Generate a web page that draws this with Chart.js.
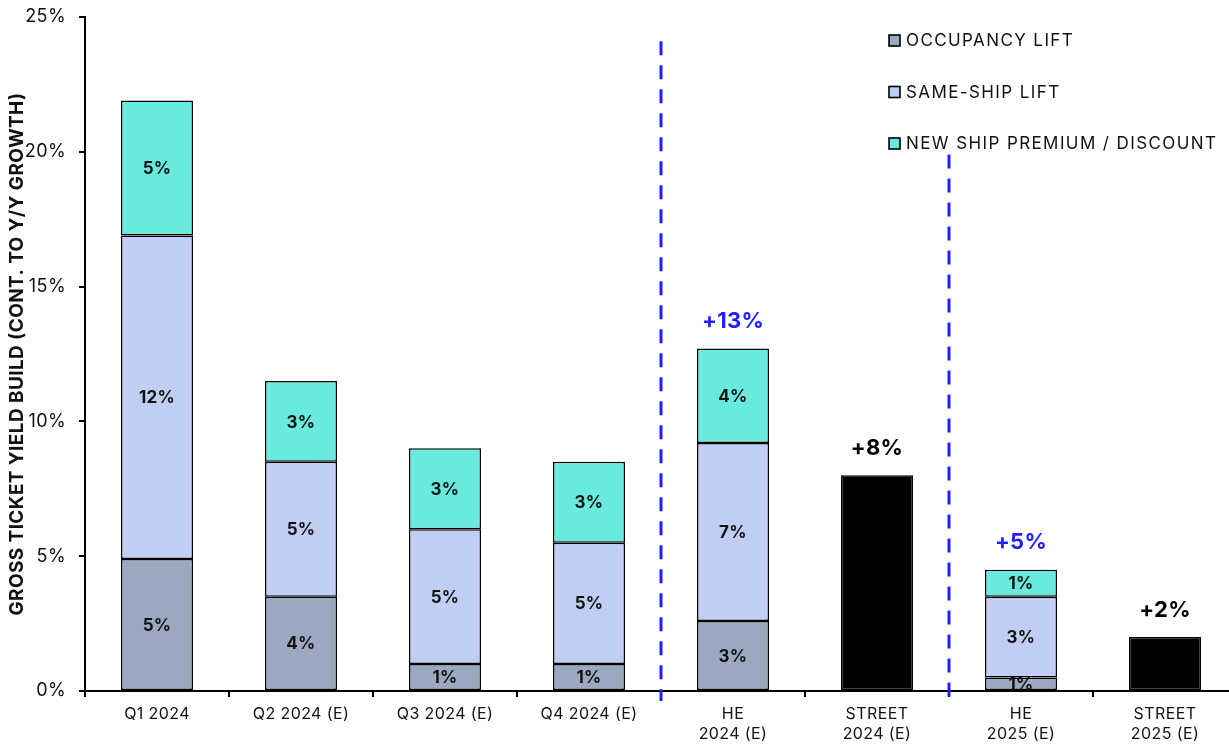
<!DOCTYPE html>
<html>
<head>
<meta charset="utf-8">
<script src="https://cdn.jsdelivr.net/npm/chart.js@4.4.1/dist/chart.umd.min.js"></script>
<style>
  html, body { margin: 0; padding: 0; background: #fff; overflow: hidden; }
  #wrap { width: 1240px; height: 750px; }
</style>
</head>
<body>
<div id="wrap"><canvas id="c" width="1240" height="750"></canvas></div>
<script>
// Categories (multi-line labels as arrays)
const categories = [
  'Q1 2024', 'Q2 2024 (E)', 'Q3 2024 (E)', 'Q4 2024 (E)',
  ['HE', '2024 (E)'], ['STREET', '2024 (E)'], ['HE', '2025 (E)'], ['STREET', '2025 (E)']
];

// Contribution to y/y gross ticket yield growth, in %
const occupancyLift = [4.9, 3.5, 1.0, 1.0, 2.6, null, 0.5, null];
const sameShipLift  = [12.0, 5.0, 5.0, 4.5, 6.6, null, 3.0, null];
const newShipPremium = [5.0, 3.0, 3.0, 3.0, 3.5, null, 1.0, null];
const streetEstimate = [null, null, null, null, null, 8.0, null, 2.0];

// Which categories get a total label above the stack, and in what colour
const totalLabelColors = [null, null, null, null, '#1f1fff', '#000000', '#1f1fff', '#000000'];

// y-axis ticks
const yTicks = [0, 5, 10, 15, 20, 25];

// Separators between category groups (index after which the line sits, top value in %)
const separatorAfter = [3, 5];
const separatorTop = [24.1, 19.9];

const FONT = "Inter, 'Liberation Sans', sans-serif";

const seriesNames = ['OCCUPANCY LIFT', 'SAME-SHIP LIFT', 'NEW SHIP PREMIUM / DISCOUNT'];
const seriesColors = ['#9ca8bf', '#c0cdf5', '#68eadc'];

const datasets = [
  { label: seriesNames[0], data: occupancyLift, backgroundColor: seriesColors[0] },
  { label: seriesNames[1], data: sameShipLift, backgroundColor: seriesColors[1] },
  { label: seriesNames[2], data: newShipPremium, backgroundColor: seriesColors[2] },
  { label: 'STREET', data: streetEstimate, backgroundColor: '#000000', noLegend: true, noInnerLabel: true }
].map(d => Object.assign({
  borderColor: '#000000',
  borderWidth: 1.5,
  borderSkipped: false,
  barPercentage: 0.5,
  categoryPercentage: 1.0,
  stack: 's'
}, d));

// Slightly wider letter spacing for all axis text
const spacing = {
  id: 'spacing',
  beforeDraw(chart) { chart.ctx.letterSpacing = '0.4px'; }
};

// Percent labels inside segments and totals above the stacks
const valueLabels = {
  id: 'valueLabels',
  afterDatasetsDraw(chart) {
    const ctx = chart.ctx;
    ctx.save();
    ctx.letterSpacing = '0.3px';
    ctx.textAlign = 'center';
    ctx.textBaseline = 'middle';
    ctx.font = "700 17px " + FONT;
    ctx.fillStyle = '#111';
    chart.data.datasets.forEach((ds, di) => {
      if (ds.noInnerLabel) return;
      const meta = chart.getDatasetMeta(di);
      meta.data.forEach((bar, i) => {
        const v = ds.data[i];
        if (v == null) return;
        const { x, y, base } = bar.getProps(['x', 'y', 'base'], true);
        ctx.fillText(Math.round(v) + '%', x, (y + base) / 2 + 1);
      });
    });
    // totals
    const yScale = chart.scales.y;
    const xScale = chart.scales.x;
    ctx.font = "700 22px " + FONT;
    categories.forEach((c, i) => {
      const col = totalLabelColors[i];
      if (!col) return;
      let total = 0;
      chart.data.datasets.forEach(ds => { if (ds.data[i] != null) total += ds.data[i]; });
      ctx.fillStyle = col;
      ctx.fillText('+' + Math.round(total) + '%', xScale.getPixelForValue(i), yScale.getPixelForValue(total) - 27);
    });
    ctx.restore();
  }
};

// Dashed blue separators between quarters / HE vs street groups
const separators = {
  id: 'separators',
  afterDatasetsDraw(chart) {
    const ctx = chart.ctx;
    const xs = chart.scales.x, ys = chart.scales.y;
    ctx.save();
    ctx.strokeStyle = '#1f1fff';
    ctx.lineWidth = 3;
    ctx.setLineDash([14, 10]);
    separatorAfter.forEach((idx, k) => {
      const x = Math.round((xs.getPixelForValue(idx) + xs.getPixelForValue(idx + 1)) / 2);
      ctx.beginPath();
      ctx.moveTo(x, ys.getPixelForValue(separatorTop[k]));
      ctx.lineTo(x, ys.bottom + 10);
      ctx.stroke();
    });
    ctx.restore();
  }
};

// Vertical legend in the upper right of the plot
const sideLegend = {
  id: 'sideLegend',
  afterDraw(chart) {
    const ctx = chart.ctx;
    ctx.save();
    ctx.letterSpacing = '1.4px';
    ctx.font = "400 17px " + FONT;
    ctx.textBaseline = 'middle';
    ctx.textAlign = 'left';
    const x0 = 889, y0 = 40, step = 51.5;
    chart.data.datasets.forEach((ds, i) => {
      if (ds.noLegend) return;
      const y = y0 + i * step;
      ctx.fillStyle = ds.backgroundColor;
      ctx.fillRect(x0, y - 5, 11, 11);
      ctx.strokeStyle = '#000';
      ctx.lineWidth = 1.6;
      ctx.strokeRect(x0, y - 5, 11, 11);
      ctx.fillStyle = '#111';
      ctx.fillText(ds.label, x0 + 17, y + 1);
    });
    ctx.restore();
  }
};

new Chart(document.getElementById('c'), {
  type: 'bar',
  data: { labels: categories, datasets },
  options: {
    responsive: false,
    animation: false,
    layout: { padding: { top: 17, right: 3, left: 0, bottom: 0 } },
    plugins: { legend: { display: false }, tooltip: { enabled: false } },
    scales: {
      x: {
        stacked: true,
        border: { color: '#000', width: 2 },
        grid: { display: true, drawOnChartArea: false, drawTicks: true, tickLength: 6, color: '#000', lineWidth: 2, offset: true },
        ticks: { color: '#111', font: { family: FONT, size: 16 }, padding: 8, maxRotation: 0, autoSkip: false },
        afterFit(s) { s.height = 59; }
      },
      y: {
        stacked: true,
        min: 0, max: 25,
        afterBuildTicks(s) { s.ticks = yTicks.map(v => ({ value: v })); },
        border: { color: '#000', width: 2 },
        grid: { drawOnChartArea: false, drawTicks: true, tickLength: 6, color: '#000', lineWidth: 2 },
        ticks: { color: '#111', font: { family: FONT, size: 18 }, padding: 13, callback: v => v + '%' },
        title: { display: true, text: 'GROSS TICKET YIELD BUILD (CONT. TO Y/Y GROWTH)', color: '#111', font: { family: FONT, size: 19, weight: '700' }, padding: { top: 6, bottom: 6 } },
        afterFit(s) { s.width = 85; s.paddingTop = 0; s.paddingBottom = 0; }
      }
    }
  },
  plugins: [spacing, valueLabels, separators, sideLegend]
});
</script>
</body>
</html>
